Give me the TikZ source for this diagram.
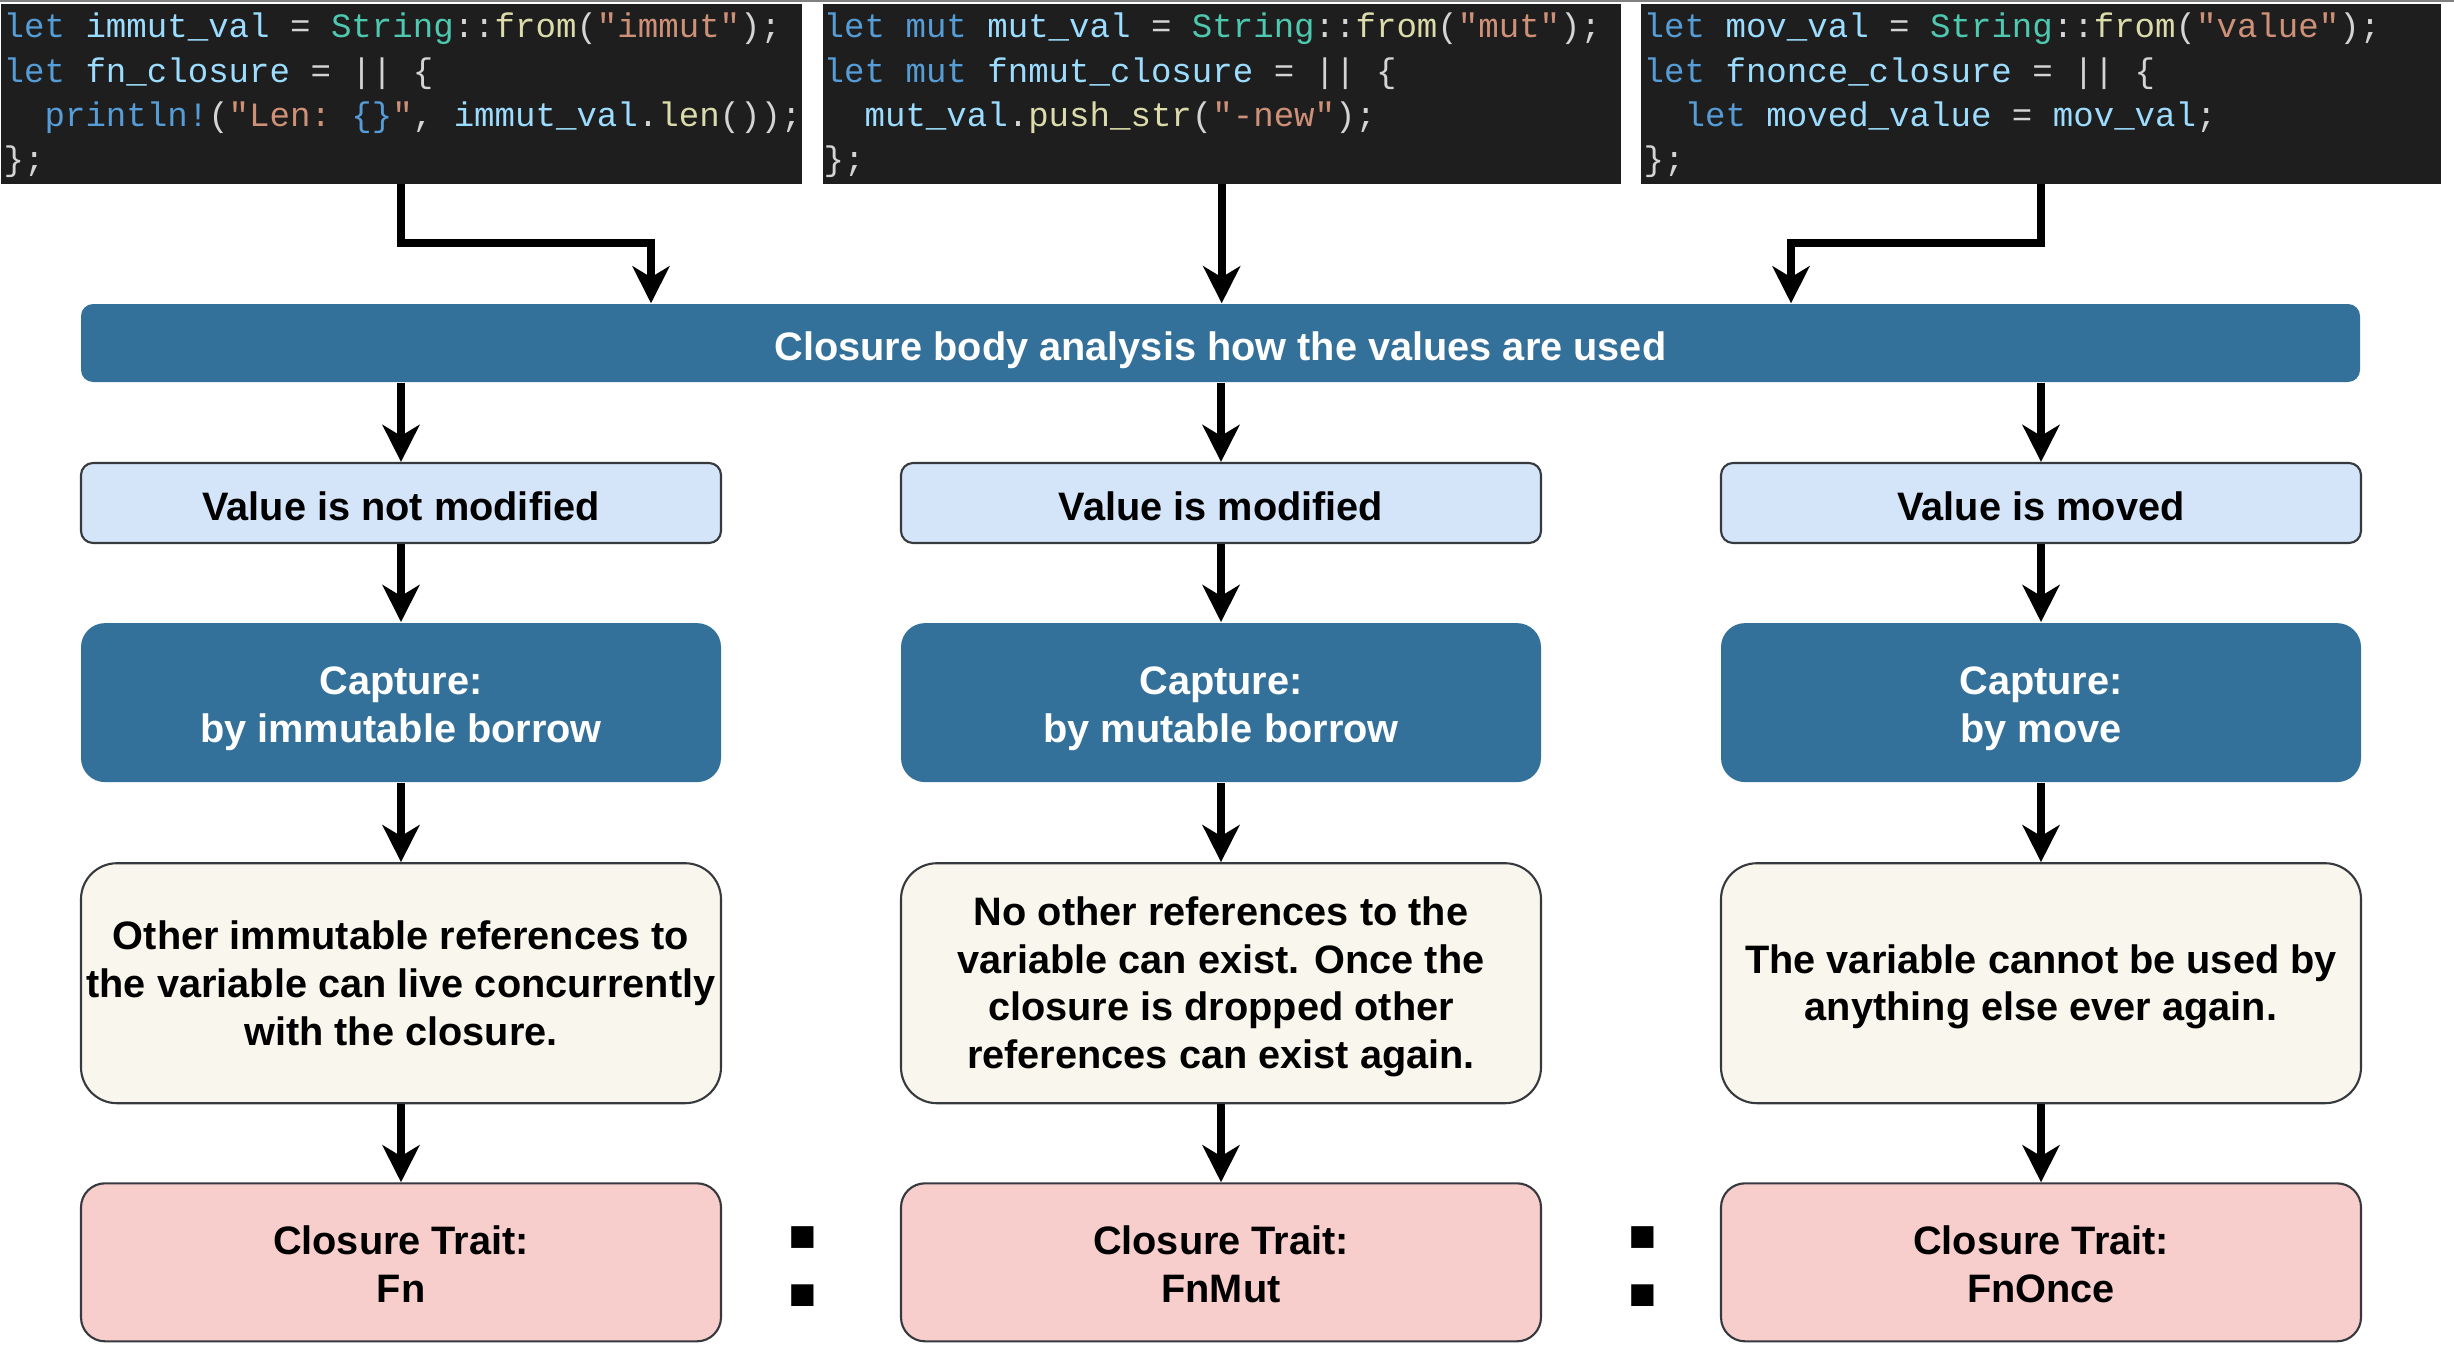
\documentclass[tikz,border=0pt]{standalone}
\usepackage{fontspec}
\setmainfont{Liberation Sans}
\setmonofont{Liberation Mono}
\usetikzlibrary{arrows.meta,positioning}

\definecolor{capblue}{HTML}{33709A}
\definecolor{lightblue}{HTML}{D4E4F9}
\definecolor{cream}{HTML}{F9F7ED}
\definecolor{traitpink}{HTML}{F8CECC}
\definecolor{edgegray}{HTML}{36393D}
\definecolor{codebg}{HTML}{1E1E1E}
\definecolor{codepun}{HTML}{D4D4D4}
\definecolor{codekw}{HTML}{569CD6}
\definecolor{codevar}{HTML}{9CDCFE}
\definecolor{codetype}{HTML}{4EC9B0}
\definecolor{codefn}{HTML}{DCDCAA}
\definecolor{codestr}{HTML}{CE9178}

\newcommand{\ckw}[1]{\textcolor{codekw}{#1}}
\newcommand{\cvar}[1]{\textcolor{codevar}{#1}}
\newcommand{\ctype}[1]{\textcolor{codetype}{#1}}
\newcommand{\cfn}[1]{\textcolor{codefn}{#1}}
\newcommand{\cstr}[1]{\textcolor{codestr}{#1}}

\begin{document}
\begin{tikzpicture}[x=0.1mm, y=-0.1mm,
    label text/.style={font=\fontsize{11.3}{13.6}\selectfont\bfseries},
    lift/.style={execute at begin node={\rule[-2.6pt]{0pt}{#1}}},
    box/.style={label text, draw=edgegray, line width=0.6pt, align=center, inner sep=1pt,
      minimum width=64mm},
    usage/.style={box, lift=15pt, fill=lightblue, rounded corners=1.2mm, minimum height=8mm},
    capture/.style={box, lift=28pt, draw=none, fill=capblue, text=white, rounded corners=2.4mm, minimum height=15.9mm},
    effect/.style={box, fill=cream, rounded corners=3.6mm, minimum height=24mm},
    trait/.style={box, lift=28pt, fill=traitpink, rounded corners=2.4mm, minimum height=15.8mm},
    codebox/.style={fill=codebg, anchor=north west, inner sep=0pt, minimum height=18mm},
    codetext/.style={text=codepun, anchor=north west, inner sep=0pt, align=left,
      font=\fontsize{9.7}{12.6}\selectfont\ttfamily},
    flow/.style={line width=0.8mm, -{Stealth[length=3.7mm, width=3.7mm, inset=1.1mm]}},
    colon/.style={inner sep=0pt, font=\fontsize{45}{45}\selectfont\bfseries}]
    \useasboundingbox (0,0) rectangle (2454,1370);
    \draw[gray, line width=0.2mm] (0,1) -- (2454,1);

    \node[codebox, minimum width=80.1mm] (code1) at (0,3) {};
    \node[codebox, minimum width=79.8mm] (code2) at (822,3) {};
    \node[codebox, minimum width=80mm]   (code3) at (1640,3) {};
    \node[codetext] (src1) at (3,5.4) {\rule{0pt}{9pt}\ckw{let} \cvar{immut\_val} = \ctype{String}::\cfn{from}(\cstr{"immut"});\\
      \ckw{let} \cvar{fn\_closure} = || \{\\
      \phantom{xx}\ckw{println!}(\cstr{"Len: }\ckw{\{\}}\cstr{"}, \cvar{immut\_val}.\cfn{len}());\\
      \};};
    \node[codetext] (src2) at (823,5.4) {\rule{0pt}{9pt}\ckw{let} \ckw{mut} \cvar{mut\_val} = \ctype{String}::\cfn{from}(\cstr{"mut"});\\
      \ckw{let} \ckw{mut} \cvar{fnmut\_closure} = || \{\\
      \phantom{xx}\cvar{mut\_val}.\cfn{push\_str}(\cstr{"-new"});\\
      \};};
    \node[codetext] (src3) at (1643,5.4) {\rule{0pt}{9pt}\ckw{let} \cvar{mov\_val} = \ctype{String}::\cfn{from}(\cstr{"value"});\\
      \ckw{let} \cvar{fnonce\_closure} = || \{\\
      \phantom{xx}\ckw{let} \cvar{moved\_value} = \cvar{mov\_val};\\
      \};};

    \node[label text, lift=15pt, fill=capblue, text=white, rounded corners=1.2mm, inner sep=0pt,
      minimum width=227.9mm, minimum height=7.8mm] (bar) at (1220.5,343)
      {Closure body analysis how the values are used};

    \node[usage] (use1) at (401,503)  {Value is not modified};
    \node[usage] (use2) at (1221,503) {Value is modified};
    \node[usage] (use3) at (2041,503) {Value is moved};

    \node[capture, below=7.8mm of use1] (cap1) {Capture:\\by immutable borrow};
    \node[capture, below=7.8mm of use2] (cap2) {Capture:\\by mutable borrow};
    \node[capture, below=7.8mm of use3] (cap3) {Capture:\\by move};

    \node[effect, below=7.9mm of cap1] (eff1) {Other immutable references to\\the variable can live concurrently\\with the closure.};
    \node[effect, lift=53.8pt, below=7.9mm of cap2] (eff2) {No other references to the\\variable can exist. Once the\\closure is dropped other\\references can exist again.};
    \node[effect, lift=26.6pt, below=7.9mm of cap3] (eff3) {The variable cannot be used by\\anything else ever again.};

    \node[trait, below=7.8mm of eff1] (trait1) {Closure Trait:\\Fn};
    \node[trait, below=7.8mm of eff2] (trait2) {Closure Trait:\\FnMut};
    \node[trait, below=7.8mm of eff3] (trait3) {Closure Trait:\\FnOnce};

    \node[colon] (sub1) at (803,1267)  {:};
    \node[colon] (sub2) at (1643,1267) {:};

    \coordinate (bend1) at (651,243);
    \coordinate (bend3) at (1791,243);
    \draw[flow] (code1.south) |- (bend1) -- (bend1 |- bar.north);
    \draw[flow] (code2.south) -- (code2.south |- bar.north);
    \draw[flow] (code3.south) |- (bend3) -- (bend3 |- bar.north);

    \foreach \c in {1,2,3} {
      \draw[flow] (bar.south -| use\c.north) -- (use\c.north);
      \draw[flow] (use\c.south) -- (cap\c.north);
      \draw[flow] (cap\c.south) -- (eff\c.north);
      \draw[flow] (eff\c.south) -- (trait\c.north);
    }
\end{tikzpicture}
\end{document}
